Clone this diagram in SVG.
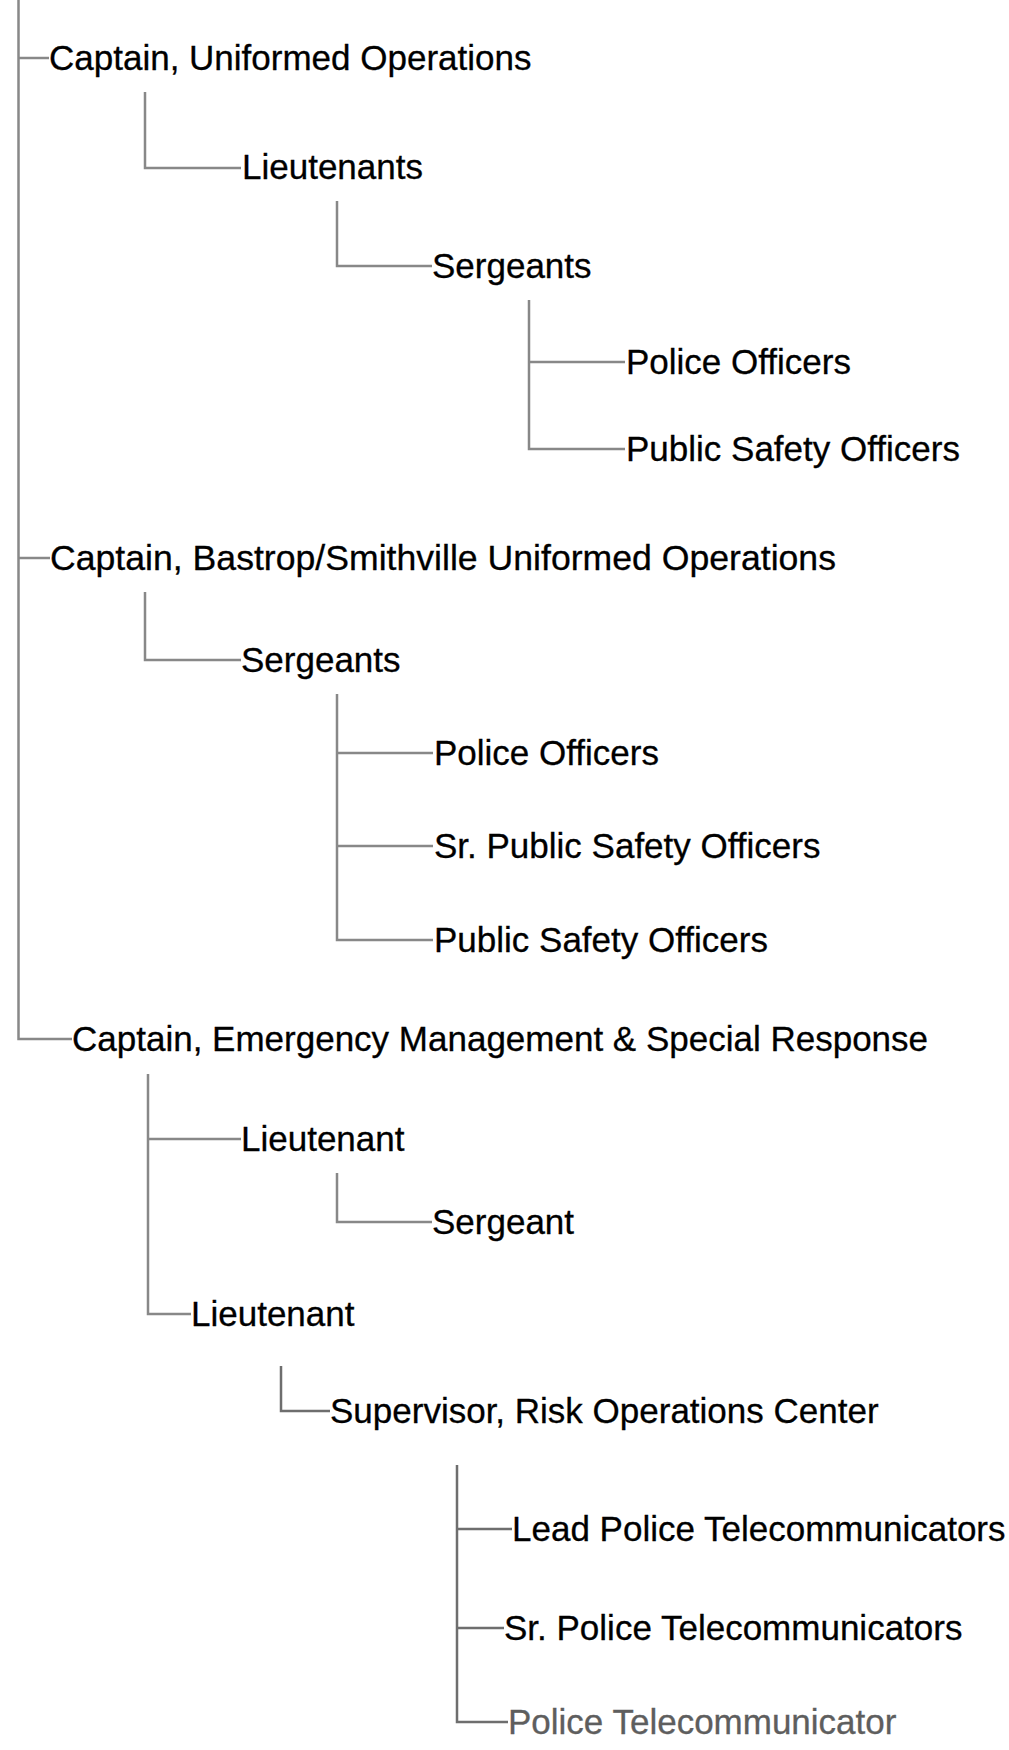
<svg xmlns="http://www.w3.org/2000/svg" width="1009" height="1750" viewBox="0 0 1009 1750">
<style>
.c{fill:none;stroke:#888;stroke-width:2.5}
.d{fill:none;stroke:#6e6e6e;stroke-width:2.5}
text{font-family:"Liberation Sans",Arial,sans-serif;font-size:35px;fill:#000;stroke:#000;stroke-width:0.3}
.g{fill:#5e5e5e;stroke:#5e5e5e}
</style>
<rect width="1009" height="1750" fill="#fff"/>
<g id="connectors">
<path class="c" d="M18.5,0V1039H72"/>
<path class="c" d="M18.5,58H49"/>
<path class="c" d="M18.5,558H50"/>
<path class="c" d="M145,92V168H241"/>
<path class="c" d="M337,201V266H432"/>
<path class="c" d="M529,300V449H625M529,362H625"/>
<path class="c" d="M145,592V660H241"/>
<path class="c" d="M337,694V940H433M337,753H433M337,846H433"/>
<path class="c" d="M148,1074V1314H191M148,1139H241"/>
<path class="c" d="M337,1173V1222H432"/>
<path class="d" d="M281,1366V1411H330"/>
<path class="d" d="M457,1465V1722H508M457,1529H512M457,1628H504"/>
</g>
<g id="n1"><text x="49" y="70">Captain, Uniformed Operations</text></g>
<g id="n2"><text x="242" y="179">Lieutenants</text></g>
<g id="n3"><text x="432" y="278">Sergeants</text></g>
<g id="n4"><text x="626" y="374">Police Officers</text></g>
<g id="n5"><text x="626" y="461">Public Safety Officers</text></g>
<g id="n6"><text x="50" y="570" textLength="786" lengthAdjust="spacingAndGlyphs">Captain, Bastrop/Smithville Uniformed Operations</text></g>
<g id="n7"><text x="241" y="672">Sergeants</text></g>
<g id="n8"><text x="434" y="765">Police Officers</text></g>
<g id="n9"><text x="434" y="858">Sr. Public Safety Officers</text></g>
<g id="n10"><text x="434" y="952">Public Safety Officers</text></g>
<g id="n11"><text x="72" y="1051">Captain, Emergency Management &amp; Special Response</text></g>
<g id="n12"><text x="241" y="1151">Lieutenant</text></g>
<g id="n13"><text x="432" y="1234">Sergeant</text></g>
<g id="n14"><text x="191" y="1326">Lieutenant</text></g>
<g id="n15"><text x="330" y="1423">Supervisor, Risk Operations Center</text></g>
<g id="n16"><text x="512" y="1541">Lead Police Telecommunicators</text></g>
<g id="n17"><text x="504" y="1640">Sr. Police Telecommunicators</text></g>
<g id="n18"><text class="g" x="508" y="1734">Police Telecommunicator</text></g>
</svg>
